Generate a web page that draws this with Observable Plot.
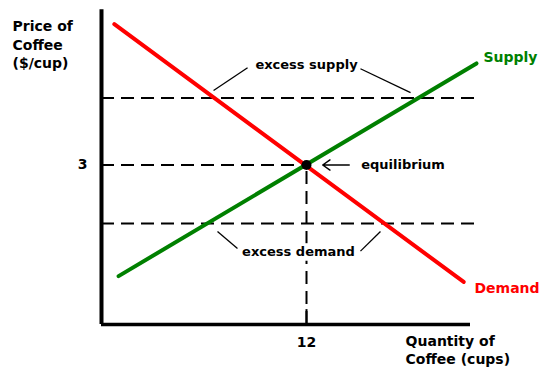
<!DOCTYPE html>
<html>
<head>
<meta charset="utf-8">
<script src="https://cdn.jsdelivr.net/npm/d3@7"></script>
<script src="https://cdn.jsdelivr.net/npm/@observablehq/plot@0.6"></script>
<style>
  html, body { margin: 0; padding: 0; background: #fff; }
</style>
</head>
<body>
<div id="chart"></div>
<script>
// ---- data ----
const demandQ = [0.75, 21.2];
const demandP = [5.65, 0.8];
const supplyQ = [1.0, 21.95];
const supplyP = [0.91, 4.91];
const eqQ = [12];
const eqP = [3];
const highPrice = [4.26];
const lowPrice = [1.9];
const xTicks = [12];
const yTicks = [3];
const xTickLabels = ["12"];
const yTickLabels = ["3"];

const demand = demandQ.map((q, i) => ({q, p: demandP[i]}));
const supply = supplyQ.map((q, i) => ({q, p: supplyP[i]}));
const eq = eqQ.map((q, i) => ({q, p: eqP[i]}));

const font = "'DejaVu Sans', Verdana, sans-serif";
const fs = 14;
const fsNote = 13;

const chart = Plot.plot({
  width: 556,
  height: 377,
  marginTop: 0, marginBottom: 0, marginLeft: 0, marginRight: 0,
  x: {domain: [0, 24], range: [101, 511], axis: null},
  y: {domain: [0, 6], range: [324, 5], axis: null},
  style: {fontFamily: font, fontWeight: "bold", fontSize: fs + "px", background: "#fff"},
  marks: [
    // dashed price lines
    Plot.ruleY(highPrice, {x1: 0, x2: 22.2, stroke: "black", strokeWidth: 2, strokeDasharray: "13,7"}),
    Plot.ruleY(lowPrice, {x1: 0, x2: 22.2, stroke: "black", strokeWidth: 2, strokeDasharray: "13,7"}),
    Plot.ruleY(eq, {y: "p", x1: 0, x2: "q", stroke: "black", strokeWidth: 2, strokeDasharray: "13,7"}),
    Plot.ruleX(eq, {x: "q", y1: 0, y2: "p", stroke: "black", strokeWidth: 2, strokeDasharray: "13,7"}),
    // white backing behind the "excess demand" label
    Plot.rect(lowPrice, {x1: 11.0, x2: 13.0, y1: d => d - 0.71, y2: d => d - 0.38, fill: "white"}),
    // axes
    Plot.ruleX([0], {y1: 0, y2: 5.92, stroke: "black", strokeWidth: 4}),
    Plot.ruleY([0], {x1: 0, x2: 21.6, stroke: "black", strokeWidth: 3.5}),
    Plot.ruleX(xTicks, {y1: 0, y2: 0.28, stroke: "black", strokeWidth: 2}),
    // curves
    Plot.line(demand, {x: "q", y: "p", stroke: "#ff0000", strokeWidth: 4}),
    Plot.line(supply, {x: "q", y: "p", stroke: "#008000", strokeWidth: 4}),
    Plot.dot(eq, {x: "q", y: "p", r: 5, fill: "black"}),
    // equilibrium arrow
    Plot.arrow(eq, {x1: d => d.q + 2.5, x2: d => d.q + 0.95, y1: "p", y2: "p", stroke: "black", strokeWidth: 1.5, headLength: 10, headAngle: 70}),
    Plot.text(eq, {x: d => d.q + 3.2, y: "p", text: ["equilibrium"], textAnchor: "start", fill: "black", fontSize: fsNote}),
    // excess supply
    Plot.text(highPrice, {x: 12, y: d => d + 0.63, text: ["excess supply"], fill: "black", fontSize: fsNote}),
    Plot.link(highPrice, {x1: 8.55, y1: d => d + 0.57, x2: 6.56, y2: d => d + 0.14, stroke: "black", strokeWidth: 1.3}),
    Plot.link(highPrice, {x1: 15.16, y1: d => d + 0.55, x2: 18.09, y2: d => d + 0.1, stroke: "black", strokeWidth: 1.3}),
    // excess demand
    Plot.text(lowPrice, {x: 11.53, y: d => d - 0.53, text: ["excess demand"], fill: "black", fontSize: fsNote}),
    Plot.link(lowPrice, {x1: 6.79, y1: d => d - 0.15, x2: 7.96, y2: d => d - 0.47, stroke: "black", strokeWidth: 1.3}),
    Plot.link(lowPrice, {x1: 15.16, y1: d => d - 0.52, x2: 16.33, y2: d => d - 0.15, stroke: "black", strokeWidth: 1.3}),
    // curve labels
    Plot.text(supply.slice(-1), {x: 22.36, y: 5.03, text: ["Supply"], textAnchor: "start", fill: "#008000"}),
    Plot.text(demand.slice(-1), {x: 21.83, y: 0.68, text: ["Demand"], textAnchor: "start", fill: "#ff0000"}),
    // tick labels
    Plot.text(xTicks, {x: d => d, y: -0.33, text: xTickLabels, fill: "black"}),
    Plot.text(yTicks, {x: -1.11, y: d => d, text: yTickLabels, fill: "black"}),
    // axis titles
    Plot.text(["Price of\nCoffee\n($/cup)"], {x: -5.21, y: 5.28, text: d => d, textAnchor: "start", lineHeight: 1.32, fill: "black"}),
    Plot.text(["Quantity of\nCoffee (cups)"], {x: 17.8, y: -0.47, text: d => d, textAnchor: "start", lineHeight: 1.28, fill: "black"})
  ]
});
document.getElementById("chart").appendChild(chart);
</script>
</body>
</html>
